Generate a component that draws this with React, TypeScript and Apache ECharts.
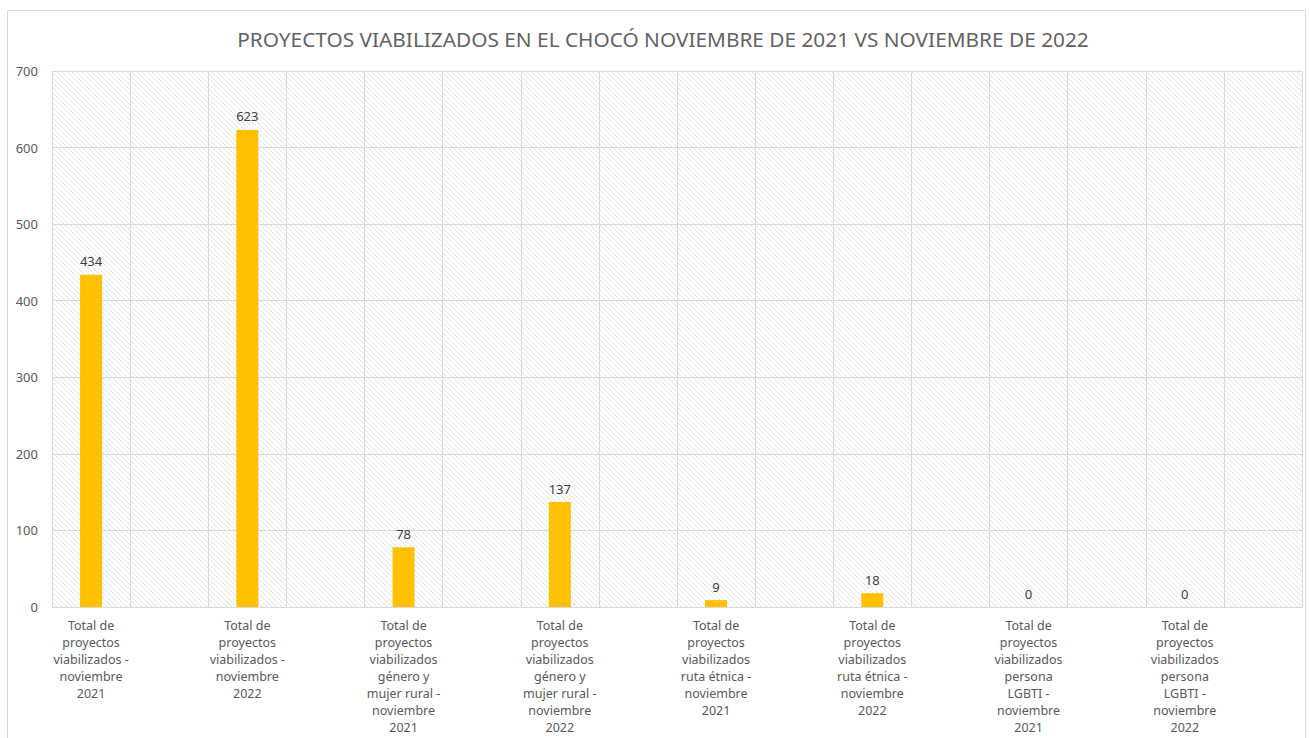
import React, { useEffect, useRef } from "react";
import * as echarts from "echarts";

const titleText = "PROYECTOS VIABILIZADOS EN EL CHOCÓ NOVIEMBRE DE 2021 VS NOVIEMBRE DE 2022";

const categories = [
  "Total de\nproyectos\nviabilizados -\nnoviembre\n2021",
  "Total de\nproyectos\nviabilizados -\nnoviembre\n2022",
  "Total de\nproyectos\nviabilizados\ngénero y\nmujer rural -\nnoviembre\n2021",
  "Total de\nproyectos\nviabilizados\ngénero y\nmujer rural -\nnoviembre\n2022",
  "Total de\nproyectos\nviabilizados\nruta étnica -\nnoviembre\n2021",
  "Total de\nproyectos\nviabilizados\nruta étnica -\nnoviembre\n2022",
  "Total de\nproyectos\nviabilizados\npersona\nLGBTI -\nnoviembre\n2021",
  "Total de\nproyectos\nviabilizados\npersona\nLGBTI -\nnoviembre\n2022",
];

const values = [434, 623, 78, 137, 9, 18, 0, 0];

const yTicks = { min: 0, max: 700, interval: 100 };

function makeHatch(): HTMLCanvasElement {
  const c = document.createElement("canvas");
  const s = 5;
  c.width = s;
  c.height = s;
  const ctx = c.getContext("2d")!;
  ctx.fillStyle = "#ffffff";
  ctx.fillRect(0, 0, s, s);
  ctx.strokeStyle = "#e2e2e2";
  ctx.lineWidth = 1;
  ctx.beginPath();
  ctx.moveTo(-1, -1);
  ctx.lineTo(s + 1, s + 1);
  ctx.moveTo(-1, s - 1);
  ctx.lineTo(1, s + 1);
  ctx.moveTo(s - 1, -1);
  ctx.lineTo(s + 1, 1);
  ctx.stroke();
  return c;
}

export default function App() {
  const ref = useRef<HTMLDivElement>(null);
  useEffect(() => {
    if (!ref.current) return;
    const chart = echarts.init(ref.current, undefined, { renderer: "svg" });
    // 16 slots: each real category followed by an empty slot
    const slotCats: string[] = [];
    const slotVals: (number | null)[] = [];
    categories.forEach((c, i) => {
      slotCats.push(c);
      slotVals.push(values[i]);
      slotCats.push("");
      slotVals.push(null);
    });
    const font = "'Noto Sans', sans-serif";
    chart.setOption({
      animation: false,
      backgroundColor: "#ffffff",
      textStyle: { fontFamily: font },
      title: {
        text: titleText,
        left: 658,
        top: 23,
        textAlign: "center",
        textStyle: { fontFamily: font, fontSize: 20.8, fontWeight: "normal", color: "#636363" },
      },
      graphic: [
        {
          type: "rect",
          shape: { x: 7.5, y: 10.5, width: 1298, height: 740 },
          style: { fill: "none", stroke: "#d9d9d9", lineWidth: 1 },
          silent: true,
          z: -1,
        },
      ],
      grid: {
        left: 52,
        right: 7,
        top: 71,
        bottom: 131,
        show: true,
        backgroundColor: { image: makeHatch(), repeat: "repeat" },
        borderWidth: 0,
      },
      xAxis: {
        type: "category",
        data: slotCats,
        boundaryGap: true,
        axisLine: { show: true, lineStyle: { color: "#d9d9d9", width: 1 } },
        axisTick: { show: false },
        splitLine: { show: true, interval: 0, lineStyle: { color: "#d9d9d9", width: 1 } },
        axisLabel: {
          interval: 0,
          color: "#595959",
          fontSize: 12.5,
          lineHeight: 17,
          margin: 10,
          align: "center",
          fontFamily: font,
        },
      },
      yAxis: {
        type: "value",
        min: yTicks.min,
        max: yTicks.max,
        interval: yTicks.interval,
        axisLine: { show: false },
        axisTick: { show: false },
        splitLine: { show: true, lineStyle: { color: "#d9d9d9", width: 1 } },
        axisLabel: { color: "#595959", fontSize: 13, margin: 14, fontFamily: font },
      },
      series: [
        {
          type: "bar",
          data: slotVals,
          barWidth: 22,
          itemStyle: { color: "#FFC000" },
          label: {
            show: true,
            position: "top",
            distance: 7,
            color: "#404040",
            fontSize: 13,
            fontFamily: font,
            formatter: (p: any) => (p.value === null || p.value === undefined ? "" : String(p.value)),
          },
        },
      ],
    });
    return () => chart.dispose();
  }, []);
  return (
    <div
      ref={ref}
      style={{ position: "absolute", left: 0, top: 0, width: 1309, height: 738 }}
    />
  );
}
